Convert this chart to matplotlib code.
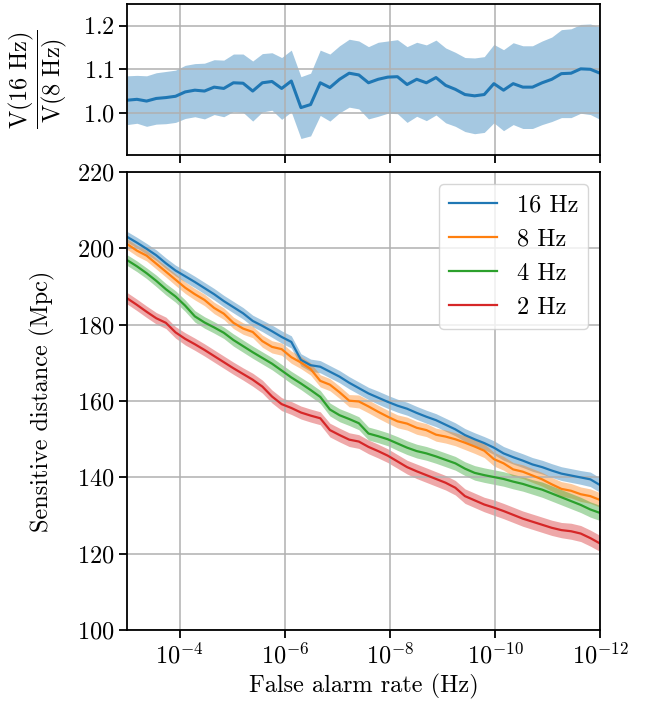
import numpy as np
import matplotlib
matplotlib.use("Agg")
import matplotlib.pyplot as plt

plt.rcParams.update({
    "font.family": "serif",
    "font.serif": ["cmr10"],
    "mathtext.fontset": "cm",
    "axes.formatter.use_mathtext": True,
    "axes.unicode_minus": False,
    "font.size": 17.5,
    "axes.linewidth": 1.3,
    "xtick.major.size": 5.5,
    "ytick.major.size": 5.5,
    "xtick.major.width": 1.3,
    "ytick.major.width": 1.3,
    "grid.linewidth": 1.1,
    "grid.color": "#b0b0b0",
})

# False alarm rate grid (Hz), from 1e-3 down to 1e-12
far = np.logspace(-3, -12, 50)

labels = ["16 Hz", "8 Hz", "4 Hz", "2 Hz"]
colors = ["tab:blue", "tab:orange", "tab:green", "tab:red"]

dist_16 = [203.0, 201.5, 199.9, 198.2, 196.1, 194.2, 192.7, 191.2, 189.6, 188.0,
           186.2, 184.6, 183.0, 181.0, 179.7, 178.3, 176.8, 175.5, 170.8, 169.4,
           169.0, 167.7, 166.4, 164.8, 163.4, 162.0, 160.9, 159.8, 158.8, 158.0,
           156.9, 155.9, 155.0, 153.8, 152.6, 151.1, 150.0, 149.0, 147.8, 146.3,
           145.3, 144.4, 143.4, 142.7, 141.8, 141.0, 140.5, 140.0, 139.5, 138.0]
dist_8 = [201.1, 199.4, 198.1, 196.0, 193.9, 191.8, 189.7, 188.0, 186.5, 184.4,
          182.9, 180.5, 179.0, 178.1, 175.7, 174.2, 173.6, 171.5, 170.1, 168.4,
          165.3, 164.3, 162.3, 160.1, 159.9, 158.6, 157.2, 155.9, 154.7, 154.1,
          153.0, 152.4, 151.2, 150.7, 150.0, 149.1, 148.1, 147.0, 144.8, 143.7,
          142.1, 141.5, 140.5, 139.5, 138.2, 137.0, 136.5, 135.6, 135.1, 134.1]
dist_4 = [196.9, 195.3, 193.5, 191.5, 189.3, 187.4, 185.0, 182.2, 180.6, 179.3,
          177.9, 176.0, 174.4, 172.8, 171.3, 169.8, 168.0, 166.2, 164.6, 162.9,
          161.1, 157.8, 156.3, 155.3, 154.2, 151.5, 150.8, 150.0, 148.9, 147.8,
          146.9, 146.3, 145.5, 144.6, 143.7, 142.3, 141.2, 140.6, 140.1, 139.6,
          138.9, 138.3, 137.5, 136.8, 135.8, 134.8, 133.8, 132.8, 131.6, 130.7]
dist_2 = [186.9, 185.2, 183.4, 181.7, 180.5, 178.0, 176.3, 174.9, 173.4, 171.8,
          170.2, 168.6, 167.1, 165.6, 163.8, 161.2, 159.2, 158.2, 157.0, 156.2,
          155.5, 152.4, 151.1, 149.9, 149.4, 148.0, 146.9, 145.7, 144.2, 142.7,
          141.6, 140.6, 139.6, 138.6, 137.3, 135.1, 134.0, 132.9, 132.1, 131.2,
          130.2, 129.2, 128.4, 127.6, 126.8, 126.2, 125.9, 125.3, 124.1, 122.7]

err_16 = [1.4, 1.4, 1.4, 1.4, 1.4, 1.4, 1.5, 1.5, 1.5, 1.5, 1.5, 1.5, 1.5, 1.5, 1.5,
          1.6, 1.6, 1.6, 1.6, 1.6, 1.6, 1.6, 1.6, 1.6, 1.6, 1.6, 1.7, 1.7, 1.7, 1.7,
          1.7, 1.7, 1.7, 1.7, 1.7, 1.7, 1.7, 1.7, 1.8, 1.8, 1.8, 1.8, 1.8, 1.8, 1.8,
          1.8, 1.8, 1.8, 1.9, 1.9]
err_8 = [1.4, 1.4, 1.4, 1.4, 1.4, 1.5, 1.5, 1.5, 1.5, 1.5, 1.5, 1.5, 1.5, 1.5, 1.6,
         1.6, 1.6, 1.6, 1.6, 1.6, 1.6, 1.6, 1.6, 1.6, 1.7, 1.7, 1.7, 1.7, 1.7, 1.7,
         1.7, 1.7, 1.7, 1.7, 1.7, 1.8, 1.8, 1.8, 1.8, 1.8, 1.8, 1.8, 1.8, 1.8, 1.8,
         1.9, 1.9, 1.9, 1.9, 1.9]
err_4 = [1.4, 1.4, 1.4, 1.5, 1.5, 1.5, 1.5, 1.5, 1.5, 1.5, 1.5, 1.6, 1.6, 1.6, 1.6,
         1.6, 1.6, 1.6, 1.6, 1.7, 1.7, 1.7, 1.7, 1.7, 1.7, 1.7, 1.7, 1.7, 1.8, 1.8,
         1.8, 1.8, 1.8, 1.8, 1.8, 1.8, 1.9, 1.9, 1.9, 1.9, 1.9, 1.9, 1.9, 2.0, 2.0,
         2.0, 2.0, 2.0, 2.0, 2.0]
err_2 = [1.5, 1.5, 1.5, 1.5, 1.5, 1.5, 1.6, 1.6, 1.6, 1.6, 1.6, 1.6, 1.6, 1.7, 1.7,
         1.7, 1.7, 1.7, 1.7, 1.7, 1.7, 1.8, 1.8, 1.8, 1.8, 1.8, 1.8, 1.8, 1.8, 1.8,
         1.9, 1.9, 1.9, 1.9, 1.9, 1.9, 1.9, 1.9, 2.0, 2.0, 2.0, 2.0, 2.0, 2.0, 2.0,
         2.0, 2.1, 2.1, 2.1, 2.1]

# Sensitive volume ratio V(16 Hz) / V(8 Hz) and its uncertainty
ratio = [1.029, 1.031, 1.027, 1.033, 1.035, 1.038, 1.048, 1.052, 1.050, 1.059,
         1.056, 1.069, 1.068, 1.050, 1.069, 1.072, 1.056, 1.073, 1.012, 1.019,
         1.069, 1.058, 1.077, 1.091, 1.087, 1.069, 1.077, 1.082, 1.083, 1.065,
         1.077, 1.069, 1.081, 1.063, 1.054, 1.042, 1.039, 1.042, 1.067, 1.052,
         1.067, 1.059, 1.059, 1.069, 1.077, 1.090, 1.091, 1.101, 1.100, 1.091]
ratio_err = [0.056, 0.055, 0.058, 0.059, 0.060, 0.060, 0.061, 0.061, 0.064, 0.063,
             0.065, 0.066, 0.067, 0.069, 0.067, 0.066, 0.071, 0.071, 0.071, 0.072,
             0.075, 0.077, 0.077, 0.078, 0.078, 0.083, 0.085, 0.083, 0.085, 0.087,
             0.085, 0.087, 0.086, 0.086, 0.085, 0.085, 0.087, 0.087, 0.090, 0.093,
             0.094, 0.095, 0.095, 0.096, 0.097, 0.101, 0.102, 0.102, 0.104, 0.106]

fig = plt.figure(figsize=(6.63, 7.08), dpi=100)
ax_r = fig.add_axes([0.192, 0.781, 0.713, 0.214])
ax = fig.add_axes([0.192, 0.110, 0.713, 0.647], sharex=ax_r)

# Ratio panel
ratio = np.asarray(ratio)
ratio_err = np.asarray(ratio_err)
ax_r.fill_between(far, ratio - ratio_err, ratio + ratio_err,
                  color="tab:blue", alpha=0.4, lw=0)
ax_r.plot(far, ratio, color="tab:blue", lw=2.2)
ax_r.set_ylim(0.903, 1.251)
ax_r.set_yticks([1.0, 1.1, 1.2])
ax_r.set_ylabel(r"$\dfrac{\mathrm{V(16\ Hz)}}{\mathrm{V(8\ Hz)}}$")
ax_r.yaxis.set_label_coords(-0.124, 0.5)
ax_r.grid(True)
ax_r.tick_params(labelbottom=False)

# Sensitive distance panel
dists = [dist_16, dist_8, dist_4, dist_2]
errs = [err_16, err_8, err_4, err_2]
for d, e, c, lab in zip(dists, errs, colors, labels):
    d = np.asarray(d)
    e = np.asarray(e)
    ax.fill_between(far, d - e, d + e, color=c, alpha=0.4, lw=0)
    ax.plot(far, d, color=c, lw=1.6, label=lab)

ax.set_xscale("log")
ax.set_xlim(1e-3, 1e-12)
ax.set_ylim(100, 220)
ax.set_yticks([100, 120, 140, 160, 180, 200, 220])
ax.set_xticks([1e-4, 1e-6, 1e-8, 1e-10, 1e-12])
ax.minorticks_off()
ax_r.minorticks_off()
ax.grid(True)
ax.set_xlabel("False alarm rate (Hz)")
ax.set_ylabel("Sensitive distance (Mpc)")
ax.yaxis.set_label_coords(-0.152, 0.5)
ax.legend(loc="upper right")

fig.savefig("out.png", dpi=100)
